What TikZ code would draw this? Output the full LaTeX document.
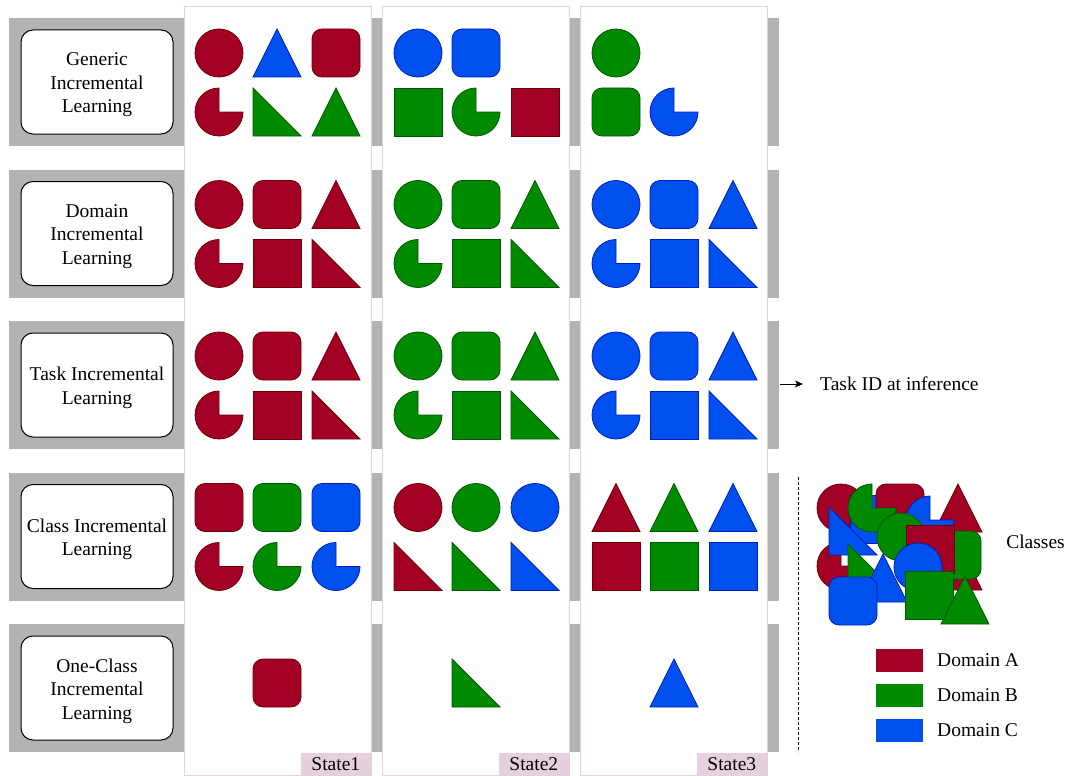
\documentclass[tikz,border=0pt]{standalone}
\usepackage{fontspec}
\setmainfont{Liberation Serif}
\usetikzlibrary{arrows.meta}
\definecolor{redF}{HTML}{A20025}\definecolor{redD}{HTML}{6F0000}
\definecolor{greenF}{HTML}{008A00}\definecolor{greenD}{HTML}{005700}
\definecolor{blueF}{HTML}{0050EF}\definecolor{blueD}{HTML}{001DBC}
\definecolor{grayBar}{HTML}{B3B3B3}
\definecolor{pinkS}{HTML}{E6D0DE}
\tikzset{
  shp/.style={line width=0.8pt},
  sR/.style={fill=redF,draw=redD},
  sG/.style={fill=greenF,draw=greenD},
  sB/.style={fill=blueF,draw=blueD},
  bar/.style={fill=grayBar,draw=none},
  lbl/.style={draw=black,fill=white,line width=1pt,rounded corners=12pt,minimum width=152pt,minimum height=104pt,inner sep=0pt},
  lbltxt/.style={align=center,inner sep=0pt},
  colbox/.style={draw=pinkS,fill=white,line width=1pt,minimum width=187pt,minimum height=768pt,inner sep=0pt},
  stlbl/.style={fill=pinkS,draw=none,minimum width=70pt,minimum height=22pt,inner sep=0pt,anchor=south east},
  txt/.style={inner sep=0pt},
  legrect/.style={draw=none,minimum width=47pt,minimum height=23pt,inner sep=0pt},
}
\newcommand{\ShCirc}[3]{\path[shp,#3] ({#1},{-(#2)}) circle[radius=24pt];}
\newcommand{\ShRsq}[3]{\path[shp,#3,rounded corners=10pt] ({#1-24},{-(#2)-24}) rectangle ({#1+24},{-(#2)+24});}
\newcommand{\ShSq}[3]{\path[shp,#3] ({#1-24},{-(#2)-24}) rectangle ({#1+24},{-(#2)+24});}
\newcommand{\ShTri}[3]{\path[shp,#3] ({#1},{-(#2)+24}) -- ({#1+24},{-(#2)-24}) -- ({#1-24},{-(#2)-24}) -- cycle;}
\newcommand{\ShRtri}[3]{\path[shp,#3] ({#1-24},{-(#2)+24}) -- ({#1-24},{-(#2)-24}) -- ({#1+24},{-(#2)-24}) -- cycle;}
\newcommand{\ShPie}[3]{\path[shp,#3] ({#1},{-(#2)}) -- ({#1},{-(#2)+24}) arc[start angle=90,end angle=360,radius=24pt] -- cycle;}
\begin{document}
\begin{tikzpicture}[x=1pt,y=1pt,font=\fontsize{19.5}{23.5}\selectfont]
\useasboundingbox (0,0) rectangle (1066,-776);
% gray bars
\foreach \r in {0,1,2,3,4} {
  \path[bar] (9,{-18-151.5*\r}) rectangle (779,{-146-151.5*\r});
}
% label boxes
\node[lbl] (l1) at (97,-82) {};
\node[lbl] (l2) at (97,-233.5) {};
\node[lbl] (l3) at (97,-385) {};
\node[lbl] (l4) at (97,-536.5) {};
\node[lbl] (l5) at (97,-688) {};
\node[lbltxt] (l1t) at ([yshift=-3pt]l1.center) {Generic\\Incremental\\Learning};
\node[lbltxt] (l2t) at ([yshift=-3pt]l2.center) {Domain\\Incremental\\Learning};
\node[lbltxt] (l3t) at ([yshift=-3pt]l3.center) {Task Incremental\\Learning};
\node[lbltxt] (l4t) at ([yshift=-3pt]l4.center) {Class Incremental\\Learning};
\node[lbltxt] (l5t) at ([yshift=-3pt]l5.center) {One-Class\\Incremental\\Learning};
% state columns
\node[colbox] (s1) at (277.5,-391) {};
\node[colbox] (s2) at (476,-391) {};
\node[colbox] (s3) at (674,-391) {};
\node[stlbl] (t1) at (371,-775) {State1};
\node[stlbl] (t2) at (569,-775) {State2};
\node[stlbl] (t3) at (767,-775) {State3};
% row 1 generic
\ShCirc{219}{53}{sR} \ShTri{277}{53}{sB} \ShRsq{336}{53}{sR}
\ShPie{219}{112}{sR} \ShRtri{277}{112}{sG} \ShTri{336}{112}{sG}
\ShCirc{418}{53}{sB} \ShRsq{476}{53}{sB}
\ShSq{418}{112}{sG} \ShPie{476}{112}{sG} \ShSq{535}{112}{sR}
\ShCirc{616}{53}{sG}
\ShRsq{616}{112}{sG} \ShPie{674}{112}{sB}
% rows 2,3 domain / task
\foreach \c/\o in {sR/0,sG/199,sB/397} {
  \foreach \yy in {204.5,356} {
    \ShCirc{219+\o}{\yy}{\c} \ShRsq{277+\o}{\yy}{\c} \ShTri{336+\o}{\yy}{\c}
    \ShPie{219+\o}{\yy+59}{\c} \ShSq{277+\o}{\yy+59}{\c} \ShRtri{336+\o}{\yy+59}{\c}
  }
}
% row 4 class
\ShRsq{219}{507.5}{sR} \ShRsq{277}{507.5}{sG} \ShRsq{336}{507.5}{sB}
\ShPie{219}{566.5}{sR} \ShPie{277}{566.5}{sG} \ShPie{336}{566.5}{sB}
\ShCirc{418}{507.5}{sR} \ShCirc{476}{507.5}{sG} \ShCirc{535}{507.5}{sB}
\ShRtri{418}{566.5}{sR} \ShRtri{476}{566.5}{sG} \ShRtri{535}{566.5}{sB}
\ShTri{616}{507.5}{sR} \ShTri{674}{507.5}{sG} \ShTri{733}{507.5}{sB}
\ShSq{616}{566.5}{sR} \ShSq{674}{566.5}{sG} \ShSq{733}{566.5}{sB}
% row 5 one-class
\ShRsq{277}{683}{sR} \ShRtri{476}{683}{sG} \ShTri{674}{683}{sB}
% task id arrow
\coordinate (a0) at (780,-384);
\coordinate (a1) at (803,-384);
\node[txt,anchor=west] (tid) at (820,-384) {Task ID at inference};
\draw[line width=1pt,-{Stealth[length=8pt,width=7pt,inset=2pt]}] (a0) -- (a1);
% dashed separator
\coordinate (d0) at (798,-477);
\coordinate (d1) at (798,-752);
\draw[line width=1pt,dash pattern=on 3pt off 2pt] (d0) -- (d1);
% classes cluster
\ShCirc{841}{508}{sR}
\ShPie{841}{566}{sR}
\ShSq{874}{519}{sB}
\ShRsq{900}{508}{sR}
\ShPie{872}{508}{sG}
\ShRtri{853}{531}{sB}
\ShRtri{872}{568}{sG}
\ShTri{958}{508}{sR}
\ShTri{958}{566}{sR}
\ShPie{930}{520}{sB}
\ShRsq{957}{555}{sG}
\ShCirc{901}{537}{sG}
\ShSq{930}{549}{sR}
\ShCirc{918}{567}{sB}
\ShTri{883}{578}{sB}
\ShRsq{853}{601}{sB}
\ShSq{929.5}{595.5}{sG}
\ShTri{965}{600}{sG}
\node[txt] (cls) at (1035.5,-542) {Classes};
% legend
\node[legrect,fill=redF] (la) at (899.5,-660) {};
\node[legrect,fill=greenF] (lb) at (899.5,-695) {};
\node[legrect,fill=blueF] (lc) at (899.5,-730) {};
\node[txt,anchor=west] (ta) at (937,-660) {Domain A};
\node[txt,anchor=west] (tb) at (937,-695) {Domain B};
\node[txt,anchor=west] (tc) at (937,-730) {Domain C};
\end{tikzpicture}
\end{document}
